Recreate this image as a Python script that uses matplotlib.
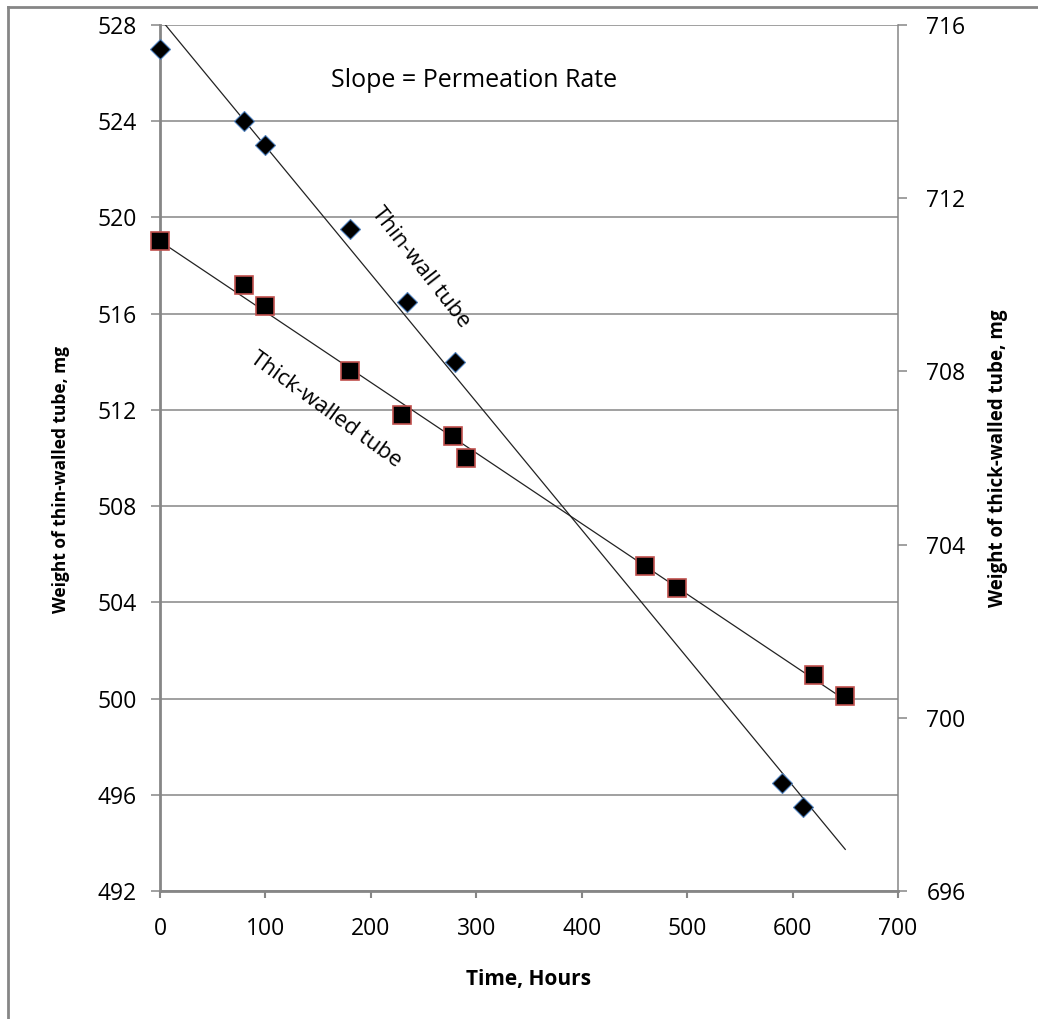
import numpy as np
import matplotlib.pyplot as plt
from matplotlib.lines import Line2D

plt.rcParams['font.family'] = ['Open Sans', 'DejaVu Sans']

# thin-walled tube (left axis)
thin_time = [0, 80, 100, 180, 234, 280, 590, 610]
thin_weight = [527.0, 524.0, 523.0, 519.5, 516.5, 514.0, 496.5, 495.5]

# thick-walled tube (right axis)
thick_time = [0, 80, 100, 180, 230, 278, 290, 460, 490, 620, 650]
thick_weight = [711.0, 710.0, 709.5, 708.0, 707.0, 706.5, 706.0, 703.5, 703.0, 701.0, 700.5]

left_ticks = [492, 496, 500, 504, 508, 512, 516, 520, 524, 528]
right_ticks = [696, 700, 704, 708, 712, 716]
x_ticks = [0, 100, 200, 300, 400, 500, 600, 700]

grey = '#868686'

fig = plt.figure(figsize=(10.38, 10.19), dpi=100)
ax = fig.add_axes([0.1541, 0.1256, 0.7110, 0.8499])
ax2 = ax.twinx()

# trendlines (least squares), drawn over 0..650 h
t_line = np.array([0, max(thick_time)])
p_thin = np.polyfit(thin_time, thin_weight, 1)
p_thick = np.polyfit(thick_time, thick_weight, 1)
ax.plot(t_line, np.polyval(p_thin, t_line), color='#222222', lw=0.9, zorder=3)
ax2.plot(t_line, np.polyval(p_thick, t_line), color='#222222', lw=0.9, zorder=3)

ax.plot(thin_time, thin_weight, ls='none', marker='D', ms=10.5, mfc='black',
        mec='#4F81BD', mew=0.8, zorder=4, clip_on=False)
ax2.plot(thick_time, thick_weight, ls='none', marker='s', ms=13, mfc='black',
         mec='#C0504D', mew=1.2, zorder=4, clip_on=False)

ax.set_xlim(0, 700)
ax.set_ylim(492, 528)
ax2.set_ylim(696, 716)
ax.set_xticks(x_ticks)
ax.set_yticks(left_ticks)
ax2.set_yticks(right_ticks)

ax.grid(axis='y', color=grey, lw=1.1)
ax.set_axisbelow(True)

for a in (ax, ax2):
    for s in a.spines.values():
        s.set_visible(False)
ax.spines['left'].set_visible(True)
ax.spines['left'].set_color(grey)
ax.spines['left'].set_linewidth(2)
ax.spines['bottom'].set_visible(True)
ax.spines['bottom'].set_color(grey)
ax.spines['bottom'].set_linewidth(2)
ax2.spines['right'].set_visible(True)
ax2.spines['right'].set_color(grey)
ax2.spines['right'].set_linewidth(1.1)

ax.tick_params(axis='y', direction='out', length=6.5, width=1.1, color=grey,
               labelsize=16.5, pad=10)
ax.tick_params(axis='x', direction='out', length=5, width=1.5, color=grey,
               labelsize=16.5, pad=14)
ax2.tick_params(axis='y', direction='out', length=6.5, width=1.1, color=grey,
                labelsize=16.5, pad=14)

ax.set_ylabel('Weight of thin-walled tube, mg', fontsize=12.5, fontweight='bold')
ax.yaxis.set_label_coords(-0.122, 0.4746)
ax2.set_ylabel('Weight of thick-walled tube, mg', fontsize=13.5, fontweight='bold',
               labelpad=16)
ax.set_xlabel('Time, Hours', fontsize=15, fontweight='bold', labelpad=20)

ax.text(0.4255, 0.936, 'Slope = Permeation Rate', transform=ax.transAxes,
        fontsize=18, ha='center', va='center')
ax.text(0.353, 0.72, 'Thin-wall tube', transform=ax.transAxes, fontsize=16,
        ha='center', va='center', rotation=-52)
ax.text(0.224, 0.555, 'Thick-walled tube', transform=ax.transAxes, fontsize=16,
        ha='center', va='center', rotation=-36)

# chart-area border (left and top edges visible)
fig.add_artist(Line2D([8 / 1038, 8 / 1038], [0, 1 - 7 / 1019], color=grey, lw=2,
                      transform=fig.transFigure))
fig.add_artist(Line2D([8 / 1038, 1], [1 - 7 / 1019, 1 - 7 / 1019], color=grey, lw=2,
                      transform=fig.transFigure))

fig.savefig('out.png', dpi=100)
